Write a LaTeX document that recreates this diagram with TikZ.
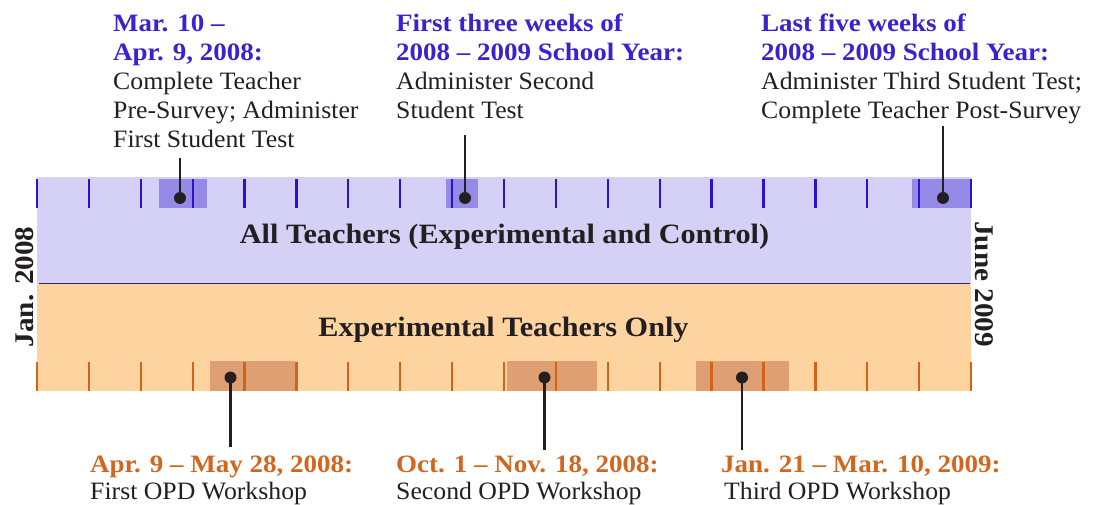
\documentclass[tikz,border=0pt]{standalone}
\usepackage{fontspec}
\setmainfont{Liberation Serif}[FakeStretch=1.03,BoldFeatures={FakeStretch=1.08}]
\definecolor{lav}{HTML}{D5D0F5}
\definecolor{lavdark}{HTML}{958AE6}
\definecolor{btick}{HTML}{2A12CF}
\definecolor{org}{HTML}{FDD3A0}
\definecolor{orgdark}{HTML}{DE9F73}
\definecolor{otick}{HTML}{D4631A}
\definecolor{tblue}{HTML}{3B22D1}
\definecolor{torg}{HTML}{D2661F}
\definecolor{ink}{HTML}{231F20}
\definecolor{divc}{HTML}{2E2A6A}
\begin{document}
\begin{tikzpicture}[x=1pt,y=-1pt,
  btk/.style={draw=btick,line width=2.3pt},
  otk/.style={draw=otick,line width=2.3pt},
  dotn/.style={circle,fill=ink,inner sep=0pt,minimum size=12pt},
  conn/.style={draw=ink,line width=2.4pt},
  lbl/.style={inner sep=0pt,anchor=base west,text=ink},
  bandlbl/.style={inner sep=0pt,anchor=base,text=ink,font=\fontsize{28}{30}\selectfont\bfseries},
  sidelbl/.style={inner sep=0pt,anchor=base,text=ink,font=\fontsize{27}{30}\selectfont\bfseries}]
\useasboundingbox (0,0) rectangle (1101,505);
% bands
\fill[lav] (37,177) rectangle (971,284);
\fill[org] (37,284) rectangle (971,391);
% highlights
\fill[lavdark] (159,179) rectangle (207,208.5);
\fill[lavdark] (446,179) rectangle (478,208.5);
\fill[lavdark] (912,179) rectangle (971,208.5);
\fill[orgdark] (210,361) rectangle (295,390.5);
\fill[orgdark] (507,361) rectangle (597,390.5);
\fill[orgdark] (696,361) rectangle (789,390.5);
% ticks
\foreach \i in {0,...,18} {
  \draw[btk] ({37+\i*51.89},179) -- ({37+\i*51.89},208);
  \draw[otk] ({37+\i*51.89},362) -- ({37+\i*51.89},391);
}
\draw[divc,line width=1.3pt] (39,283.5) -- (970,283.5);
% band labels
\node[bandlbl] (allt) at (504.5,244) {All Teachers (Experimental and Control)};
\node[bandlbl] (expt) at (503.5,336) {Experimental Teachers Only};
\node[sidelbl,rotate=90] (jan) at (33,287) {Jan. 2008};
\node[sidelbl,rotate=-90] (jun) at (975,284) {June 2009};
% top labels
\node[lbl] (lab1) at (113,31.7) {\parbox[t]{320pt}{\leavevmode\raggedright\fontsize{25}{29}\selectfont
  {\color{tblue}\bfseries Mar. 10 –}\\
  {\color{tblue}\bfseries Apr. 9, 2008:}\\
  Complete Teacher\\ Pre-Survey; Administer\\ First Student Test}};
\node[lbl] (lab2) at (396,31.7) {\parbox[t]{340pt}{\leavevmode\raggedright\fontsize{25}{29}\selectfont
  {\color{tblue}\bfseries First three weeks of}\\
  {\color{tblue}\bfseries 2008 – 2009 School Year:}\\
  Administer Second\\ Student Test}};
\node[lbl] (lab3) at (761,31.7) {\parbox[t]{340pt}{\leavevmode\raggedright\fontsize{25}{29}\selectfont
  {\color{tblue}\bfseries Last five weeks of}\\
  {\color{tblue}\bfseries 2008 – 2009 School Year:}\\
  Administer Third Student Test;\\ Complete Teacher Post-Survey}};
% bottom labels
\node[lbl] (lab4) at (90,472) {\parbox[t]{340pt}{\leavevmode\raggedright\fontsize{25}{27}\selectfont
  {\color{torg}\bfseries Apr. 9 – May 28, 2008:}\\ First OPD Workshop}};
\node[lbl] (lab5) at (396,472) {\parbox[t]{340pt}{\leavevmode\raggedright\fontsize{25}{27}\selectfont
  {\color{torg}\bfseries Oct. 1 – Nov. 18, 2008:}\\ Second OPD Workshop}};
\node[lbl] (lab6) at (721,472) {\parbox[t]{340pt}{\leavevmode\raggedright\fontsize{25}{27}\selectfont
  {\color{torg}\bfseries Jan. 21 – Mar. 10, 2009:}\\ \hspace*{3pt}Third OPD Workshop}};
% dots
\node[dotn] (d1) at (180,198) {};
\node[dotn] (d2) at (465,198) {};
\node[dotn] (d3) at (943,198) {};
\node[dotn] (d4) at (230.5,377.5) {};
\node[dotn] (d5) at (544.5,377.5) {};
\node[dotn] (d6) at (742,377.5) {};
% connector ends
\coordinate (e1) at (180,158);
\coordinate (e2) at (465,135);
\coordinate (e3) at (943,126);
\coordinate (e4) at (230.5,447);
\coordinate (e5) at (544.5,450);
\coordinate (e6) at (742,450);
\draw[conn] (d1.center) -- (e1);
\draw[conn] (d2.center) -- (e2);
\draw[conn] (d3.center) -- (e3);
\draw[conn] (d4.center) -- (e4);
\draw[conn] (d5.center) -- (e5);
\draw[conn] (d6.center) -- (e6);
\end{tikzpicture}
\end{document}
